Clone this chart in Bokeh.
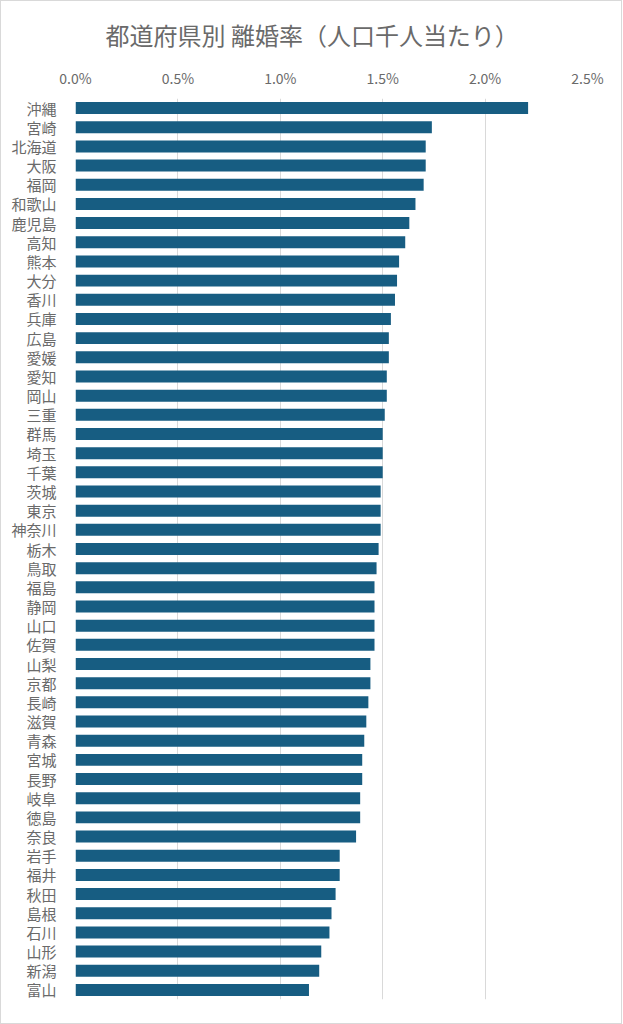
from bokeh.plotting import figure
from bokeh.models import FactorRange, Range1d, PrintfTickFormatter, FixedTicker, ColumnDataSource
from bokeh.embed import file_html
from bokeh.resources import INLINE

title_text = "都道府県別 離婚率（人口千人当たり）"
prefectures = ["沖縄", "宮崎", "北海道", "大阪", "福岡", "和歌山", "鹿児島", "高知", "熊本", "大分",
               "香川", "兵庫", "広島", "愛媛", "愛知", "岡山", "三重", "群馬", "埼玉", "千葉",
               "茨城", "東京", "神奈川", "栃木", "鳥取", "福島", "静岡", "山口", "佐賀", "山梨",
               "京都", "長崎", "滋賀", "青森", "宮城", "長野", "岐阜", "徳島", "奈良", "岩手",
               "福井", "秋田", "島根", "石川", "山形", "新潟", "富山"]
rates = [2.21, 1.74, 1.71, 1.71, 1.70, 1.66, 1.63, 1.61, 1.58, 1.57,
         1.56, 1.54, 1.53, 1.53, 1.52, 1.52, 1.51, 1.50, 1.50, 1.50,
         1.49, 1.49, 1.49, 1.48, 1.47, 1.46, 1.46, 1.46, 1.46, 1.44,
         1.44, 1.43, 1.42, 1.41, 1.40, 1.40, 1.39, 1.39, 1.37, 1.29,
         1.29, 1.27, 1.25, 1.24, 1.20, 1.19, 1.14]
x_ticks = [0.0, 0.5, 1.0, 1.5, 2.0, 2.5]

FONT = "Noto Sans CJK JP"
GRAY = "#6a6a6a"

source = ColumnDataSource(data=dict(pref=prefectures, rate=rates))

p = figure(
    y_range=FactorRange(factors=list(reversed(prefectures))),
    x_range=Range1d(0, 2.5),
    frame_width=512, frame_height=901,
    x_axis_location="above",
    output_backend="svg", toolbar_location=None,
    title=title_text,
)
p.min_border_left = 74
p.min_border_right = 34
p.min_border_bottom = 24
p.min_border_top = 95
p.styles = {"border": "1px solid #d9d9d9"}

p.hbar(y="pref", right="rate", left=0, height=0.625, source=source,
       fill_color="#175d82", line_color=None)

p.title.text_font = FONT
p.title.text_font_size = "24px"
p.title.text_font_style = "normal"
p.title.text_color = GRAY
p.title.align = "left"
p.title.offset = 30
p.title.standoff = 26

xa = p.xaxis[0]
xa.ticker = FixedTicker(ticks=x_ticks)
xa.formatter = PrintfTickFormatter(format="%.1f%%")
xa.axis_line_color = None
xa.major_tick_line_color = None
xa.minor_tick_line_color = None
xa.major_label_standoff = 5
xa.major_label_text_font = FONT
xa.major_label_text_font_size = "14px"
xa.major_label_text_color = GRAY

ya = p.yaxis[0]
ya.axis_line_color = None
ya.major_tick_line_color = None
ya.major_label_standoff = 13
ya.major_label_text_font = FONT
ya.major_label_text_font_size = "15px"
ya.major_label_text_color = GRAY

p.ygrid.grid_line_color = None
p.xgrid.grid_line_color = "#d9d9d9"
p.xgrid.grid_line_width = 1
p.outline_line_color = None
p.background_fill_color = "white"
p.border_fill_color = "white"

open("out.html", "w").write(file_html(p, INLINE))
